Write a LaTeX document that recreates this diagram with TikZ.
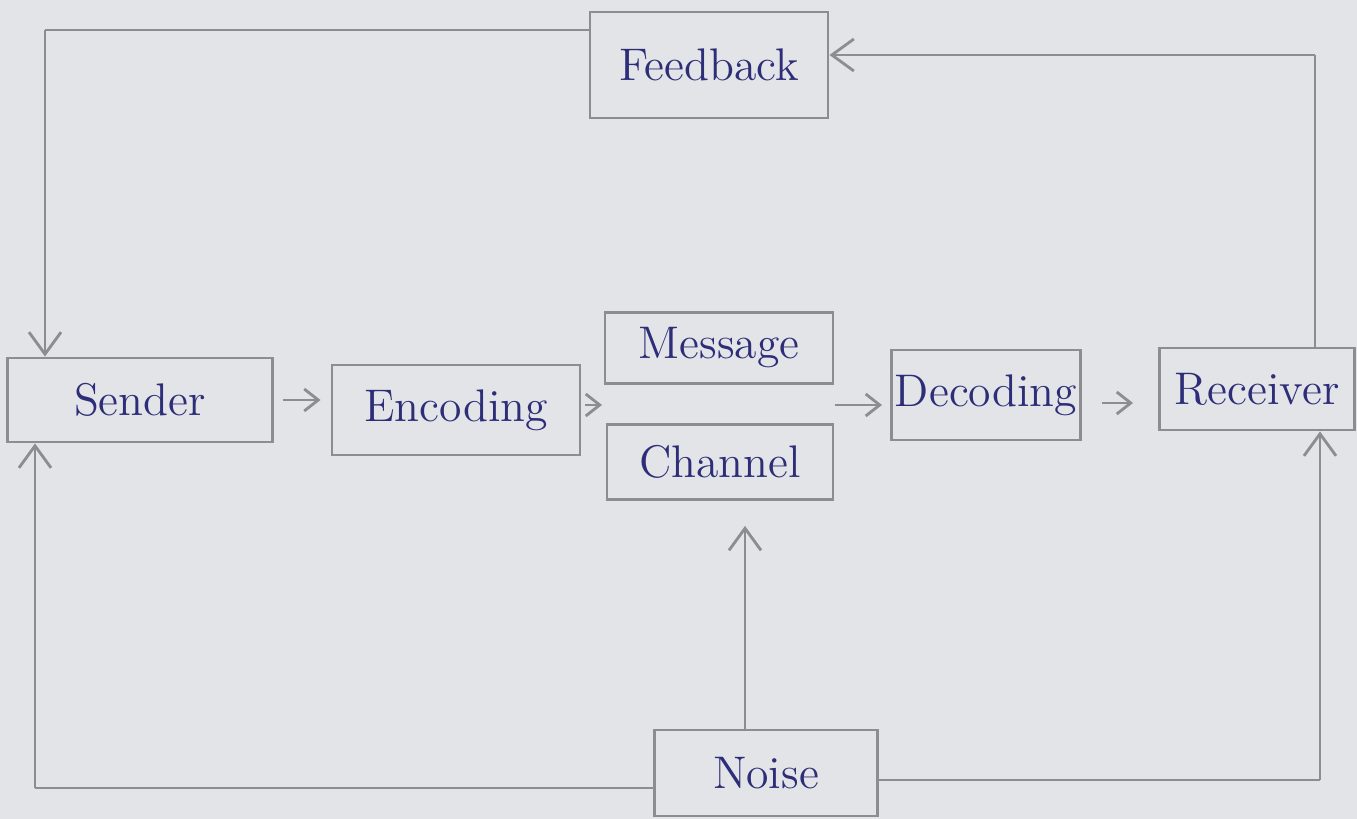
\documentclass[tikz,border=0pt]{standalone}
\usepackage{tikz}
\usetikzlibrary{arrows.meta, positioning, calc}
\definecolor{paper}{RGB}{226,228,231}
\definecolor{pencil}{RGB}{140,140,145}
\definecolor{ink}{RGB}{45,45,120}
\tikzset{
    blockBox/.style={rectangle, draw=pencil, thick, fill=paper, inner sep=1pt, text=ink, font=\fontsize{13}{15}\selectfont},
    flowLine/.style={pencil, thick},
    flowArrow/.style={pencil, thick, -{Straight Barb[length=2.2mm, width=3.2mm]}},
    smallArrow/.style={pencil, thick, -{Straight Barb[length=1.4mm, width=2.2mm]}}
}

\begin{document}
\begin{tikzpicture}[x=0.01cm, y=-0.01cm]

        % --- Paper ---
        \fill[paper] (0,0) rectangle (1357,819);
        \useasboundingbox (0,0) rectangle (1357,819);

        % --- Blocks ---
        \node[blockBox, minimum width=2.38cm, minimum height=1.06cm] (feedback) at (709,65)  {Feedback};
        \node[blockBox, minimum width=2.65cm, minimum height=0.84cm] (sender)   at (140,400) {Sender};
        \node[blockBox, minimum width=2.48cm, minimum height=0.90cm] (encoding) at (456,410) {Encoding};
        \node[blockBox, minimum width=2.28cm, minimum height=0.71cm] (message)  at (719,348) {Message};
        \node[blockBox, minimum width=2.26cm, minimum height=0.75cm] (channel)  at (720,462) {Channel};
        \node[blockBox, minimum width=1.87cm, minimum height=0.90cm] (decoding) at (986,395) {Decoding};
        \node[blockBox, minimum width=1.95cm, minimum height=0.82cm] (receiver) at (1257,389) {Receiver};
        \node[blockBox, minimum width=2.23cm, minimum height=0.86cm] (noise)    at (766,773) {Noise};

        % --- Corner points of the loops ---
        \coordinate (gapIn)  at (605,405);
        \coordinate (gapOut) at (835,405);
        \coordinate (topLeft)  at (45,30);
        \coordinate (topRight) at (1315,55);
        \coordinate (botLeft)  at (35,788);
        \coordinate (botRight) at (1320,780);

        % --- Forward path ---
        \draw[smallArrow, shorten >=0.1cm] (sender.east) ++(9,0) coordinate (sOut) -- (sOut -| encoding.west);
        \draw[smallArrow, shorten >=0.03cm] (encoding.east |- gapIn) ++(4,0) coordinate (eOut) -- (gapIn);
        \draw[smallArrow, shorten >=0.08cm] (gapOut) -- (gapOut -| decoding.west);
        \draw[smallArrow, shorten <=0.2cm, shorten >=0.25cm] (decoding.east |- receiver) ++(0,14) coordinate (dOut) -- (dOut -| receiver.west);

        % --- Noise into channel ---
        \draw[flowArrow, shorten >=0.25cm] (noise.north -| 745,0) -- (channel.south -| 745,0);

        % --- Feedback loop ---
        \draw[flowLine] (receiver.north -| topRight) -- (topRight);
        \draw[flowArrow] (topRight) -- (topRight -| feedback.east);
        \draw[flowLine] (feedback.west |- topLeft) -- (topLeft);
        \draw[flowArrow] (topLeft) -- (topLeft |- sender.north);

        % --- Noise loops ---
        \draw[flowLine] (noise.west |- botLeft) -- (botLeft);
        \draw[flowArrow] (botLeft) -- (botLeft |- sender.south);
        \draw[flowLine] (noise.east |- botRight) -- (botRight);
        \draw[flowArrow] (botRight) -- (botRight |- receiver.south);

\end{tikzpicture}
\end{document}
